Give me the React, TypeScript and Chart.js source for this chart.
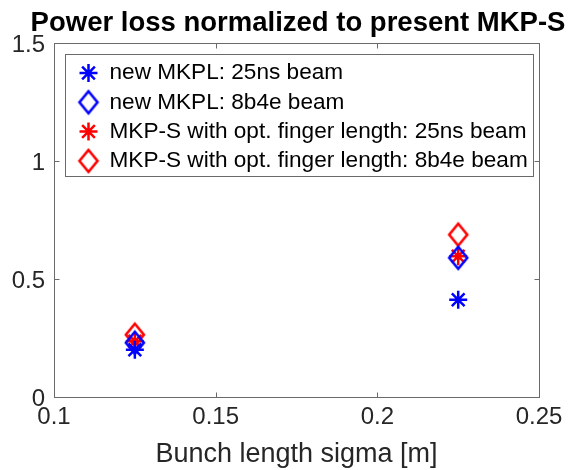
import React, { useEffect, useRef } from 'react';
import { Chart, registerables } from 'chart.js';
import { drawPoint } from 'chart.js/helpers';

Chart.register(...registerables);

const FONT = "'Liberation Sans', Arial, Helvetica, sans-serif";

// ---- data ----
const bunchSigma = [0.125, 0.225];
const mkplBeam25ns = [0.2, 0.412];
const mkplBeam8b4e = [0.23, 0.59];
const mkpsBeam25ns = [0.236, 0.596];
const mkpsBeam8b4e = [0.264, 0.688];
const seriesLabels = [
  'new MKPL: 25ns beam',
  'new MKPL: 8b4e beam',
  'MKP-S with opt. finger length: 25ns beam',
  'MKP-S with opt. finger length: 8b4e beam',
];
const xTicks = [0.1, 0.15, 0.2, 0.25];
const yTicks = [0, 0.5, 1, 1.5];
const titleText = 'Power loss normalized to present MKP-S';
const xTitle = 'Bunch length sigma [m]';

const LEGEND_FONT = `22.6px ${FONT}`;
const TITLE_FONT = `bold 27.5px ${FONT}`;

function makeDiamond(color: string): HTMLCanvasElement {
  const c = document.createElement('canvas');
  c.width = 24;
  c.height = 30;
  const g = c.getContext('2d')!;
  g.strokeStyle = color;
  g.lineWidth = 2.6;
  g.lineJoin = 'miter';
  g.beginPath();
  g.moveTo(12, 4);
  g.lineTo(21, 15);
  g.lineTo(12, 26);
  g.lineTo(3, 15);
  g.closePath();
  g.stroke();
  return c;
}

const boxPlugin = {
  id: 'matlabBox',
  afterDraw(chart: any) {
    const { ctx, chartArea: a, scales } = chart;
    ctx.save();

    // title, centred over the axes like MATLAB
    ctx.fillStyle = '#000000';
    ctx.font = TITLE_FONT;
    ctx.textAlign = 'center';
    ctx.textBaseline = 'middle';
    ctx.fillText(titleText, (a.left + a.right) / 2 + 1.5, a.top - 20);

    ctx.strokeStyle = '#6a6a6a';
    ctx.lineWidth = 1;
    const L = Math.round(a.left) + 0.5;
    const R = Math.round(a.right) + 0.5;
    const T = Math.round(a.top) + 0.5;
    const B = Math.round(a.bottom) + 0.5;
    ctx.strokeRect(L, T, R - L, B - T);
    const tl = 5;
    ctx.beginPath();
    xTicks.forEach((v) => {
      const x = Math.round(scales.x.getPixelForValue(v)) + 0.5;
      ctx.moveTo(x, B);
      ctx.lineTo(x, B - tl);
      ctx.moveTo(x, T);
      ctx.lineTo(x, T + tl);
    });
    yTicks.forEach((v) => {
      const y = Math.round(scales.y.getPixelForValue(v)) + 0.5;
      ctx.moveTo(L, y);
      ctx.lineTo(L + tl, y);
      ctx.moveTo(R, y);
      ctx.lineTo(R - tl, y);
    });
    ctx.stroke();

    // legend
    ctx.font = LEGEND_FONT;
    const widths = seriesLabels.map((t) => ctx.measureText(t).width);
    const left = Math.round(a.left + 11) + 0.5;
    const top = Math.round(a.top + 11) + 0.5;
    const textX = left + 44;
    const right = Math.round(textX + Math.max(...widths) + 5) + 0.5;
    const rowH = 29.3;
    const firstY = top + 18.5;
    const bottom = Math.round(firstY + rowH * 3 + 15) + 0.5;
    ctx.fillStyle = '#ffffff';
    ctx.fillRect(left, top, right - left, bottom - top);
    ctx.strokeStyle = '#6a6a6a';
    ctx.lineWidth = 1;
    ctx.strokeRect(left, top, right - left, bottom - top);
    chart.data.datasets.forEach((ds: any, i: number) => {
      const y = firstY + i * rowH;
      ctx.save();
      ctx.strokeStyle = ds.borderColor;
      ctx.fillStyle = ds.backgroundColor;
      ctx.lineWidth = ds.borderWidth;
      drawPoint(ctx, { pointStyle: ds.pointStyle, radius: ds.pointRadius, borderWidth: ds.borderWidth, rotation: 0 } as any, left + 23, y);
      ctx.restore();
      ctx.fillStyle = '#000000';
      ctx.textAlign = 'left';
      ctx.textBaseline = 'middle';
      ctx.font = LEGEND_FONT;
      ctx.fillText(seriesLabels[i], textX, y);
    });
    ctx.restore();
  },
};

export default function App() {
  const ref = useRef<HTMLCanvasElement | null>(null);
  useEffect(() => {
    document.body.style.margin = '0';
    const blueDiamond = makeDiamond('#0000ff');
    const redDiamond = makeDiamond('#ff0000');
    const toPts = (ys: number[]) => bunchSigma.map((x, i) => ({ x, y: ys[i] }));
    const chart = new Chart(ref.current!, {
      type: 'scatter',
      data: {
        datasets: [
          {
            label: seriesLabels[0],
            data: toPts(mkplBeam25ns),
            pointStyle: 'star',
            pointRadius: 9,
            borderWidth: 2.5,
            borderColor: '#0000ff',
            backgroundColor: '#0000ff',
          },
          {
            label: seriesLabels[1],
            data: toPts(mkplBeam8b4e),
            pointStyle: blueDiamond,
            pointRadius: 12,
            borderWidth: 2.5,
            borderColor: '#0000ff',
            backgroundColor: 'rgba(0,0,0,0)',
          },
          {
            label: seriesLabels[2],
            data: toPts(mkpsBeam25ns),
            pointStyle: 'star',
            pointRadius: 9,
            borderWidth: 2.5,
            borderColor: '#ff0000',
            backgroundColor: '#ff0000',
          },
          {
            label: seriesLabels[3],
            data: toPts(mkpsBeam8b4e),
            pointStyle: redDiamond,
            pointRadius: 12,
            borderWidth: 2.5,
            borderColor: '#ff0000',
            backgroundColor: 'rgba(0,0,0,0)',
          },
        ] as any,
      },
      options: {
        responsive: false,
        animation: false,
        devicePixelRatio: 1,
        layout: { padding: { left: 0, right: 26, top: 43, bottom: 0 } },
        plugins: {
          legend: { display: false },
          tooltip: { enabled: false },
          title: { display: false },
        },
        scales: {
          x: {
            type: 'linear',
            min: 0.1,
            max: 0.25,
            afterBuildTicks: (s: any) => {
              s.ticks = xTicks.map((v) => ({ value: v }));
            },
            afterFit: (s: any) => {
              s.height = 73;
            },
            grid: { display: false, drawTicks: false },
            border: { display: false },
            ticks: {
              padding: 5.6,
              color: '#262626',
              autoSkip: false,
              maxRotation: 0,
              font: { family: FONT, size: 24 },
              callback: (v: any) => String(v),
            },
            title: {
              display: true,
              text: xTitle,
              color: '#262626',
              font: { family: FONT, size: 27, lineHeight: 1 },
              padding: { top: 0, bottom: 1.5 },
            },
          },
          y: {
            type: 'linear',
            min: 0,
            max: 1.5,
            afterBuildTicks: (s: any) => {
              s.ticks = yTicks.map((v) => ({ value: v }));
            },
            afterFit: (s: any) => {
              s.width = 54;
            },
            grid: { display: false, drawTicks: false },
            border: { display: false },
            ticks: {
              padding: 9,
              labelOffset: 2,
              color: '#262626',
              autoSkip: false,
              font: { family: FONT, size: 24 },
              callback: (v: any) => String(v),
            },
          },
        },
      } as any,
      plugins: [boxPlugin],
    });
    return () => chart.destroy();
  }, []);
  return (
    <div style={{ width: 568, height: 470, background: '#ffffff' }}>
      <canvas ref={ref} width={568} height={470} style={{ display: 'block' }} />
    </div>
  );
}
